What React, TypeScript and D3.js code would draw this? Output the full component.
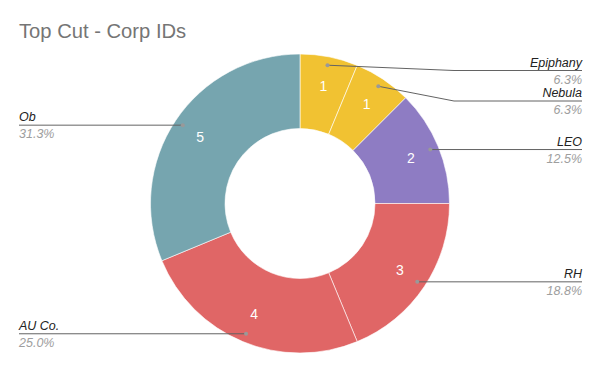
import React from "react";
import * as d3 from "d3";

const categories = ["Epiphany", "Nebula", "LEO", "RH", "AU Co.", "Ob"];
const values = [1, 1, 2, 3, 4, 5];
const colors = ["#f1c232", "#f1c232", "#8e7cc3", "#e06666", "#e06666", "#76a5af"];
const title = "Top Cut - Corp IDs";

const W = 600, H = 371;
const cx = 300, cy = 203.5;
const rOuter = 149.5, rInner = 75;
const rLabel = 120, rDot = 141;

export default function App() {
  const pie = d3.pie<number>().sort(null).value((d) => d);
  const arcs = pie(values);
  const arc = d3.arc<d3.PieArcDatum<number>>().innerRadius(rInner).outerRadius(rOuter);
  const total = d3.sum(values);
  const pt = (a: number, r: number) => [Math.sin(a) * r, -Math.cos(a) * r];

  const items = arcs.map((a, i) => {
    const mid = (a.startAngle + a.endAngle) / 2;
    const [dx, dy] = pt(mid, rDot);
    const [lx, ly] = pt(mid, rLabel);
    return { i, mid, dx: cx + dx, dy: cy + dy, lx: cx + lx, ly: cy + ly, right: dx >= 0, y: cy + dy };
  });
  // label layout
  const right = items.filter((d) => d.right).sort((a, b) => a.dy - b.dy);
  let prev = -Infinity;
  right.forEach((d) => {
    d.y = Math.max(d.dy, prev + 30.5, 70.5);
    prev = d.y;
  });
  const left = items.filter((d) => !d.right).sort((a, b) => a.dy - b.dy);
  prev = -Infinity;
  left.forEach((d) => {
    d.y = Math.max(d.dy, prev + 30.5, 70.5);
    prev = d.y;
  });

  const font = "Arial, 'Liberation Sans', sans-serif";
  return (
    <svg width={W} height={H} style={{ position: "absolute", left: 0, top: 0 }} fontFamily={font}>
      <rect width={W} height={H} fill="#fff" />
      <text x={19} y={38} fontSize={20.2} fill="#757575">{title}</text>
      <g transform={`translate(${cx},${cy})`}>
        {arcs.map((a, i) => (
          <path key={i} d={arc(a) || ""} fill={colors[i]} stroke="#fff" strokeWidth={0.6} />
        ))}
      </g>
      {items.map((d) => (
        <text key={"v" + d.i} x={d.lx} y={d.ly + 5} fontSize={14} fill="#fff" textAnchor="middle">
          {values[d.i]}
        </text>
      ))}
      {items.map((d) => {
        const xEnd = d.right ? 582 : 19;
        const bend = d.right ? 454 : 146;
        const path = Math.abs(d.y - d.dy) > 0.5
          ? `M${d.dx},${d.dy}L${bend},${d.y}L${xEnd},${d.y}`
          : `M${d.dx},${d.y}L${xEnd},${d.y}`;
        const pct = ((values[d.i] / total) * 100).toFixed(1) + "%";
        return (
          <g key={"l" + d.i}>
            <path d={path} fill="none" stroke="#636363" strokeWidth={1} />
            <circle cx={d.dx} cy={d.dy} r={2} fill="#999" />
            <text x={xEnd} y={d.y - 4} fontSize={12.5} fontStyle="italic" fill="#222" textAnchor={d.right ? "end" : "start"}>
              {categories[d.i]}
            </text>
            <text x={xEnd} y={d.y + 13} fontSize={12.5} fontStyle="italic" fill="#9e9e9e" textAnchor={d.right ? "end" : "start"}>
              {pct}
            </text>
          </g>
        );
      })}
    </svg>
  );
}
